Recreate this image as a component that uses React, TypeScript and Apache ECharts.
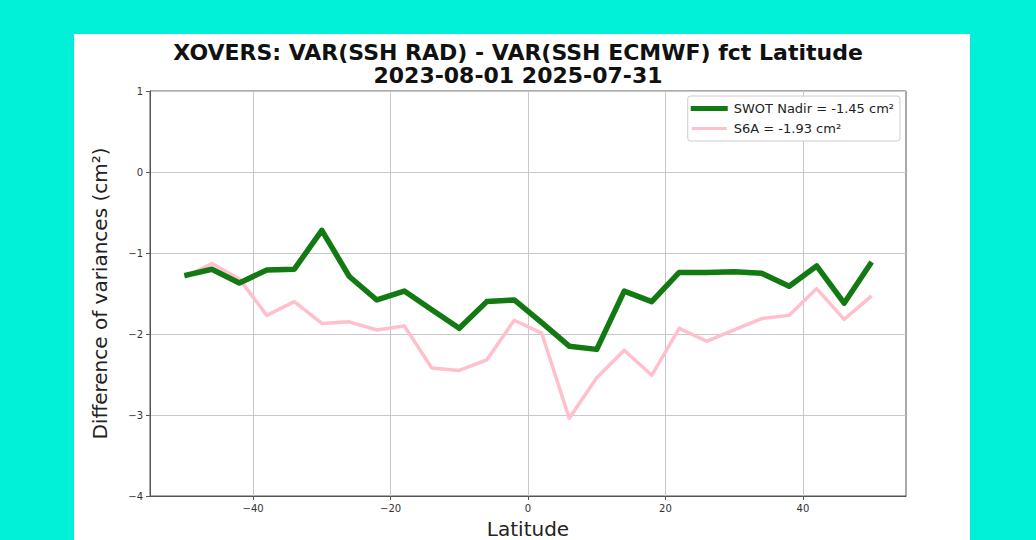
import React, { useEffect, useRef } from "react";
import * as echarts from "echarts";

const latitudes = [-50, -46, -42, -38, -34, -30, -26, -22, -18, -14, -10, -6, -2, 2, 6, 10, 14, 18, 22, 26, 30, 34, 38, 42, 46, 50];
const swotNadir = [-1.28, -1.2, -1.37, -1.21, -1.2, -0.72, -1.29, -1.58, -1.47, -1.7, -1.93, -1.6, -1.58, -1.86, -2.15, -2.19, -1.47, -1.6, -1.24, -1.24, -1.23, -1.25, -1.41, -1.16, -1.62, -1.11];
const s6a = [-1.3, -1.13, -1.32, -1.77, -1.6, -1.87, -1.85, -1.95, -1.9, -2.42, -2.45, -2.32, -1.83, -1.99, -3.04, -2.54, -2.2, -2.51, -1.93, -2.09, -1.95, -1.81, -1.77, -1.44, -1.82, -1.53];
const xTicks = [-40, -20, 0, 20, 40];
const seriesNames = ["SWOT Nadir = -1.45 cm²", "S6A = -1.93 cm²"];
const titleLines = ["XOVERS: VAR(SSH RAD) - VAR(SSH ECMWF) fct Latitude", "2023-08-01 2025-07-31"];

const fmt = (v: number) => (v < 0 ? "\u2212" + Math.abs(v) : String(v));

export default function App() {
  const ref = useRef<HTMLDivElement>(null);
  useEffect(() => {
    if (!ref.current) return;
    const chart = echarts.init(ref.current, null, { renderer: "svg" });
    const font = "'DejaVu Sans', sans-serif";
    chart.setOption({
      animation: false,
      backgroundColor: "transparent",
      textStyle: { fontFamily: font },
      title: {
        text: titleLines.join("\n"),
        left: "center",
        top: 36,
        textStyle: { fontSize: 22, fontWeight: "bold", color: "#111", lineHeight: 23, fontFamily: font },
      },
      grid: {
        left: 150,
        top: 91,
        width: 756,
        height: 405,
        show: true,
        containLabel: false,
        outerBoundsMode: "none",
        borderColor: "#555",
        borderWidth: 1,
        backgroundColor: "transparent",
      },
      legend: {
        orient: "vertical",
        right: 136,
        top: 96,
        itemWidth: 37,
        itemHeight: 5,
        itemGap: 7,
        padding: [6, 6, 6, 2],
        borderColor: "#ccc",
        borderWidth: 1,
        borderRadius: 3,
        backgroundColor: "#fff",
        textStyle: { fontSize: 13, color: "#222", fontFamily: font, padding: [0, 0, 0, 1] },
        data: [
          { name: seriesNames[0], icon: "rect", itemStyle: { color: "#137a13", borderWidth: 0 } },
          { name: seriesNames[1], icon: "rect", itemStyle: { color: "#ffc0cb", borderColor: "#ffffff", borderWidth: 2 } },
        ],
      },
      xAxis: {
        type: "value",
        min: -55,
        max: 55,
        name: "Latitude",
        nameLocation: "middle",
        nameGap: 23,
        nameTextStyle: { fontSize: 20, color: "#222", fontFamily: font },
        axisLine: { show: true, onZero: false, lineStyle: { color: "#555" } },
        axisTick: { show: true, inside: false, length: 4, customValues: xTicks, lineStyle: { color: "#555" } },
        axisLabel: { customValues: xTicks, formatter: fmt, fontSize: 10, color: "#333", margin: 7 },
        splitLine: { show: true, lineStyle: { color: "#c8c8c8", width: 1 } },
      },
      yAxis: {
        type: "value",
        min: -4,
        max: 1,
        interval: 1,
        name: "Difference of variances (cm²)",
        nameLocation: "middle",
        nameGap: 40,
        nameTextStyle: { fontSize: 20, color: "#222", fontFamily: font },
        axisLine: { show: true, onZero: false, lineStyle: { color: "#555" } },
        axisTick: { show: true, inside: false, length: 4, lineStyle: { color: "#555" } },
        axisLabel: { formatter: fmt, fontSize: 10, color: "#333", margin: 7 },
        splitLine: { show: true, lineStyle: { color: "#c8c8c8", width: 1 } },
      },
      series: [
        {
          name: seriesNames[0],
          type: "line",
          data: latitudes.map((x, i) => [x, swotNadir[i]]),
          symbol: "none",
          showSymbol: false,
          z: 3,
          lineStyle: { color: "#137a13", width: 5.5, join: "round" },
          itemStyle: { color: "#137a13" },
        },
        {
          name: seriesNames[1],
          type: "line",
          data: latitudes.map((x, i) => [x, s6a[i]]),
          symbol: "none",
          showSymbol: false,
          z: 2,
          lineStyle: { color: "#ffc0cb", width: 3.5, join: "round" },
          itemStyle: { color: "#ffc0cb" },
        },
      ],
    });
    return () => chart.dispose();
  }, []);

  return (
    <div style={{ position: "fixed", left: 0, top: 0, width: 1036, height: 540, background: "#00f0d8", overflow: "hidden" }}>
      <div style={{ position: "absolute", left: 74, top: 34, width: 896, height: 506, background: "#fff" }} />
      <div ref={ref} style={{ position: "absolute", left: 0, top: 0, width: 1036, height: 540 }} />
    </div>
  );
}
